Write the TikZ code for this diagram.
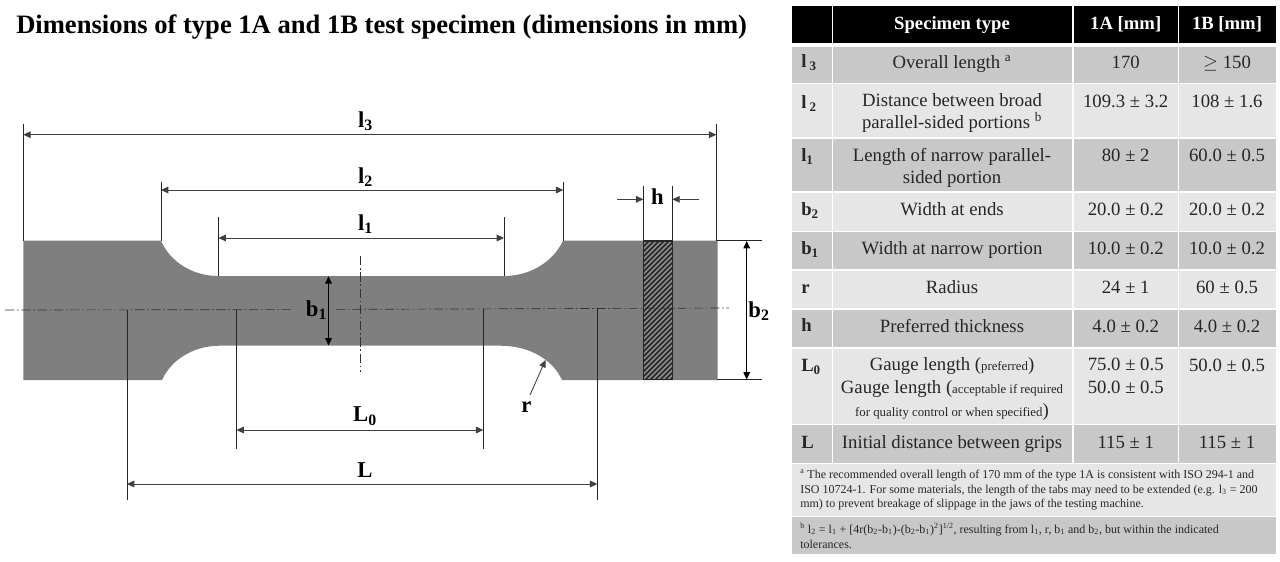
\documentclass[tikz,border=0pt]{standalone}
\usepackage{fontspec}
\setmainfont{Liberation Serif}
\usetikzlibrary{arrows.meta}
\tikzset{>={Triangle[length=5.5pt,width=5pt]}}
\definecolor{steelgray}{HTML}{7F7F7F}
\definecolor{rowdark}{HTML}{C8C8C8}
\definecolor{rowlight}{HTML}{E6E6E6}
\definecolor{inkgray}{HTML}{262626}
\tikzset{
  dimline/.style={<->,line width=0.65pt,black!75},
  extline/.style={line width=0.6pt,black!85},
  axisline/.style={line width=0.5pt,black!80,dash pattern=on 7pt off 2pt on 1.2pt off 2pt},
  dimlabel/.style={font=\fontsize{17}{20}\selectfont\bfseries,inner sep=0pt},
  cell/.style={font=\fontsize{14.05}{17}\selectfont,text=inkgray,align=center,inner sep=0pt},
  onecell/.style={font=\fontsize{14.05}{17}\selectfont,text=inkgray,inner sep=0pt,text height=10pt,text depth=3pt},
  headcell/.style={font=\fontsize{14}{16}\selectfont\bfseries,text=white,inner sep=0pt,text height=10pt,text depth=3pt},
  symcell/.style={font=\fontsize{14}{16}\selectfont\bfseries,text=inkgray,anchor=west,inner sep=0pt,text height=10pt,text depth=3pt},
  notecell/.style={font=\fontsize{9}{11}\selectfont,text=inkgray,align=left,anchor=west,inner sep=0pt}
}
\newcommand{\smallnote}[1]{{\fontsize{9.6}{11}\selectfont #1}}
\begin{document}
\begin{tikzpicture}[x=0.75pt,y=-0.75pt]
\useasboundingbox (0,0) rectangle (1280,561);
\node[font=\fontsize{19.93}{22}\selectfont\bfseries,inner sep=0pt,anchor=west] (title) at (16,27) {Dimensions of type 1A and 1B test specimen (dimensions in mm)};
% specimen
\fill[steelgray] (23.3,240.7) -- (161,240.7) .. controls (170,262) and (193,276) .. (218,276) -- (504,276)
  .. controls (530,276) and (553,262) .. (563,240.7) -- (717.7,240.7) -- (717.7,380) -- (562,380)
  .. controls (553,360) and (530,345.7) .. (500,345.7) -- (220,345.7) .. controls (193,345.7) and (171,360) .. (162,380)
  -- (23.3,380) -- cycle;
\begin{scope}
\clip (643,240.7) rectangle (672.5,379.6);
\fill[black!45] (643,240.7) rectangle (672.5,379.6);
\foreach \hx in {0,5,...,175}
  \draw[line width=1.1pt,black!85] (\hx+500,380) -- ++(145,-145);
\end{scope}
\draw[line width=1.2pt,black!85] (643.3,240.7) rectangle (672.4,379.6);
% centre lines
\coordinate (axisL) at (5,310);
\coordinate (axisM) at (293,309.6);
\coordinate (axisN) at (336,309.4);
\coordinate (axisR) at (729,308);
\coordinate (axisT) at (360.3,256);
\coordinate (axisB) at (360.3,372);
\draw[axisline] (axisL) -- (axisM);
\draw[axisline] (axisN) -- (axisR);
\draw[axisline] (axisT) -- (axisB);
% extension lines
\coordinate (l3a) at (23.3,134.7);
\coordinate (l3b) at (716.3,134.7);
\draw[extline] (23.3,123.5) -- (23.3,240.7);
\draw[extline] (716.3,123.5) -- (716.3,240.7);
\coordinate (l2a) at (161,190);
\coordinate (l2b) at (563.3,190);
\draw[extline] (161,181.7) -- (161,240.7);
\draw[extline] (563.3,181.7) -- (563.3,240.7);
\coordinate (l1a) at (218.5,238);
\coordinate (l1b) at (504,238);
\draw[extline] (218.5,217) -- (218.5,276);
\draw[extline] (504,217) -- (504,276);
\coordinate (hL) at (643.3,199.3);
\coordinate (hLout) at (616.7,199.3);
\coordinate (hR) at (672.4,199.3);
\coordinate (hRout) at (698.5,199.3);
\draw[extline] (643.3,185.5) -- (643.3,240.7);
\draw[extline] (672.4,185.5) -- (672.4,240.7);
\coordinate (b2a) at (746.7,241);
\coordinate (b2b) at (746.7,379.5);
\draw[extline] (717,240.7) -- (762.3,240.7);
\draw[extline] (717,379.5) -- (762.3,379.5);
\coordinate (b1a) at (328.5,276.3);
\coordinate (b1b) at (328.5,345.5);
\coordinate (L0a) at (236.5,430);
\coordinate (L0b) at (483.3,430);
\draw[extline] (236.5,310) -- (236.5,448.7);
\draw[extline] (483.3,309) -- (483.3,448.7);
\coordinate (La) at (127,484);
\coordinate (Lb) at (597.3,484);
\draw[extline] (127,310) -- (127,500);
\draw[extline] (597.3,309) -- (597.3,500);
\coordinate (rtail) at (530,395);
\coordinate (rhead) at (545.5,360);
% dimension arrows
\draw[dimline] (l3a) -- (l3b);
\draw[dimline] (l2a) -- (l2b);
\draw[dimline] (l1a) -- (l1b);
\draw[dimline,black] (b1a) -- (b1b);
\draw[dimline,black] (b2a) -- (b2b);
\draw[dimline] (L0a) -- (L0b);
\draw[dimline] (La) -- (Lb);
\draw[dimline,<-] (hL) -- (hLout);
\draw[dimline,<-] (hR) -- (hRout);
\draw[dimline,<-] (rhead) -- (rtail);
% dimension labels
\node[dimlabel] (labl3) at (365.5,121) {l\textsubscript{3}};
\node[dimlabel] (labl2) at (365.5,177) {l\textsubscript{2}};
\node[dimlabel] (labl1) at (365.5,224) {l\textsubscript{1}};
\node[dimlabel] (labb1) at (316.5,310) {b\textsubscript{1}};
\node[dimlabel] (labb2) at (759,311) {b\textsubscript{2}};
\node[dimlabel] (labh) at (657.5,197) {h};
\node[dimlabel] (labr) at (526.5,407) {r};
\node[dimlabel] (labL0) at (365,416) {L\textsubscript{0}};
\node[dimlabel] (labL) at (365,470) {L};
% table cells
\foreach \ya/\yb/\shade in {46.7/82.7/rowdark,84/137.3/rowlight,138.7/191.3/rowdark,192.7/230.7/rowlight,232/269.3/rowdark,270.5/308.3/rowlight,310/347.3/rowdark,348.5/424/rowlight,425.3/463/rowdark}
  \foreach \xa/\xb in {791.7/831.7,832.8/1072,1073.5/1178,1179.2/1275.7}
    \fill[\shade] (\xa,\ya) rectangle (\xb,\yb);
\foreach \xa/\xb in {791.7/831.7,832.8/1072,1073.5/1178,1179.2/1275.7}
  \fill[black] (\xa,6) rectangle (\xb,42.7);
\fill[rowlight] (791.7,464.3) rectangle (1275.7,515.7);
\fill[rowdark] (791.7,517) rectangle (1275.7,554.3);
% header
\node[headcell] (headtype) at (952,25.3) {Specimen type};
\node[headcell] (headA) at (1125.7,25.3) {1A [mm]};
\node[headcell] (headB) at (1227,25.3) {1B [mm]};
% symbols
\node[symcell] (syml3) at (801,63) {l\,\textsubscript{3}};
\node[symcell] (syml2) at (801,103.6) {l\,\textsubscript{2}};
\node[symcell] (syml1) at (801,157) {l\textsubscript{1}};
\node[symcell] (symb2) at (801,211.3) {b\textsubscript{2}};
\node[symcell] (symb1) at (801,250.3) {b\textsubscript{1}};
\node[symcell] (symr) at (801,288.6) {r};
\node[symcell] (symh) at (801,327) {h};
\node[symcell] (symL0) at (801,367) {L\textsubscript{0}};
\node[symcell] (symL) at (801,443.6) {L};
% descriptions
\node[onecell] (txtl3) at (952,63.6) {Overall length \textsuperscript{a}};
\node[cell] (txtl2) at (952,113) {Distance between broad\\parallel-sided portions \textsuperscript{b}};
\node[cell] (txtl1) at (952,168) {Length of narrow parallel-\\sided portion};
\node[onecell] (txtb2) at (952,211.3) {Width at ends};
\node[onecell] (txtb1) at (952,250.3) {Width at narrow portion};
\node[onecell] (txtr) at (952,289.3) {Radius};
\node[onecell] (txth) at (952,328) {Preferred thickness};
\node[cell] (txtL0) at (952,389) {Gauge length (\smallnote{preferred})\\Gauge length (\smallnote{acceptable if required}\\\smallnote{for quality control or when specified})};
\node[onecell] (txtL) at (952,443.6) {Initial distance between grips};
% values
\node[onecell] (valAl3) at (1125.7,63.6) {170};
\node[onecell] (valBl3) at (1227,63.6) {$\geq$ 150};
\node[onecell] (valAl2) at (1125.7,102.6) {109.3 ± 3.2};
\node[onecell] (valBl2) at (1227,102.6) {108 ± 1.6};
\node[onecell] (valAl1) at (1125.7,157) {80 ± 2};
\node[onecell] (valBl1) at (1227,157) {60.0 ± 0.5};
\node[onecell] (valAb2) at (1125.7,211.3) {20.0 ± 0.2};
\node[onecell] (valBb2) at (1227,211.3) {20.0 ± 0.2};
\node[onecell] (valAb1) at (1125.7,250.3) {10.0 ± 0.2};
\node[onecell] (valBb1) at (1227,250.3) {10.0 ± 0.2};
\node[onecell] (valAr) at (1125.7,289.3) {24 ± 1};
\node[onecell] (valBr) at (1227,289.3) {60 ± 0.5};
\node[onecell] (valAh) at (1125.7,328) {4.0 ± 0.2};
\node[onecell] (valBh) at (1227,328) {4.0 ± 0.2};
\node[cell] (valAL0) at (1125.7,376) {75.0 ± 0.5\\50.0 ± 0.5};
\node[onecell] (valBL0) at (1227,367) {50.0 ± 0.5};
\node[onecell] (valAL) at (1125.7,443.6) {115 ± 1};
\node[onecell] (valBL) at (1227,443.6) {115 ± 1};
% notes
\node[notecell] (notea) at (800,490) {\textsuperscript{a} The recommended overall length of 170 mm of the type 1A is consistent with ISO 294-1 and\\ISO 10724-1. For some materials, the length of the tabs may need to be extended (e.g. l\textsubscript{3} = 200\\mm) to prevent breakage of slippage in the jaws of the testing machine.};
\node[notecell] (noteb) at (800,535.5) {\textsuperscript{b} l\textsubscript{2} = l\textsubscript{1} + [4r(b\textsubscript{2}-b\textsubscript{1})-(b\textsubscript{2}-b\textsubscript{1})\textsuperscript{2}]\textsuperscript{1/2}, resulting from l\textsubscript{1}, r, b\textsubscript{1} and b\textsubscript{2}, but within the indicated\\tolerances.};
\end{tikzpicture}
\end{document}
